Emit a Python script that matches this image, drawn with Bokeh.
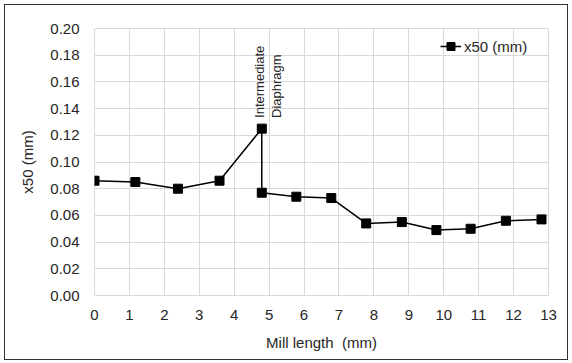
from bokeh.plotting import figure
from bokeh.models import ColumnDataSource, Label, Legend, LegendItem, NumeralTickFormatter, FixedTicker
from bokeh.embed import file_html
from bokeh.resources import INLINE

# Data
mill_length = [0.0, 1.17, 2.39, 3.58, 4.79, 4.79, 5.78, 6.78, 7.78, 8.80, 9.79, 10.77, 11.78, 12.80]
x50 = [0.086, 0.085, 0.080, 0.086, 0.125, 0.077, 0.074, 0.073, 0.054, 0.055, 0.049, 0.050, 0.056, 0.057]
x_ticks = list(range(0, 14))
y_ticks = [0.00, 0.02, 0.04, 0.06, 0.08, 0.10, 0.12, 0.14, 0.16, 0.18, 0.20]
series_name = "x50 (mm)"
annotation_text = "Intermediate\nDiaphragm"
annotation_x = 4.97
annotation_y = 0.133

FONT = "Liberation Sans"
GRID = "#d9d9d9"
TXT = "#262626"

src = ColumnDataSource(dict(x=mill_length, y=x50))

p = figure(width=564, height=356, x_range=(0, 13), y_range=(0, 0.2),
           output_backend="svg", toolbar_location=None,
           min_border_left=89, min_border_right=21, min_border_top=23, min_border_bottom=66)
p.margin = (4, 0, 0, 4)
p.styles = {"border": "1px solid #333333", "box-sizing": "border-box"}

line = p.line("x", "y", source=src, line_color="black", line_width=1.5)
pts = p.scatter("x", "y", source=src, marker="square", size=9, fill_color="black", line_color="black")

p.xaxis.ticker = FixedTicker(ticks=x_ticks)
p.yaxis.ticker = FixedTicker(ticks=y_ticks)
p.yaxis.formatter = NumeralTickFormatter(format="0.00")

for ax in (p.xaxis, p.yaxis):
    ax.axis_line_color = None
    ax.major_tick_line_color = None
    ax.minor_tick_line_color = None
    ax.major_label_text_font = FONT
    ax.major_label_text_font_size = "15px"
    ax.major_label_text_color = TXT
    ax.axis_label_text_font = FONT
    ax.axis_label_text_font_size = "15px"
    ax.axis_label_text_font_style = "normal"
    ax.axis_label_text_color = TXT

p.xaxis.axis_label = "Mill length\u00a0 (mm)"
p.yaxis.axis_label = "x50 (mm)"
p.xaxis.major_label_standoff = 8
p.yaxis.major_label_standoff = 9
p.xaxis.axis_label_standoff = 11
p.yaxis.axis_label_standoff = 11

p.xgrid.grid_line_color = GRID
p.ygrid.grid_line_color = GRID
p.outline_line_color = GRID

lab = Label(x=annotation_x, y=annotation_y, text=annotation_text, angle=1.5708,
            text_align="left", text_baseline="middle", text_font=FONT,
            text_font_size="13px", text_color=TXT, text_line_height=1.1)
p.add_layout(lab)

legend = Legend(items=[LegendItem(label=series_name, renderers=[line, pts])],
                location=(346, 239), padding=0, margin=0, spacing=0,
                border_line_color=None, background_fill_alpha=0,
                label_text_font=FONT, label_text_font_size="15px", label_text_color=TXT,
                glyph_width=21, label_standoff=3)
p.add_layout(legend)

open("out.html", "w").write(file_html(p, INLINE))
